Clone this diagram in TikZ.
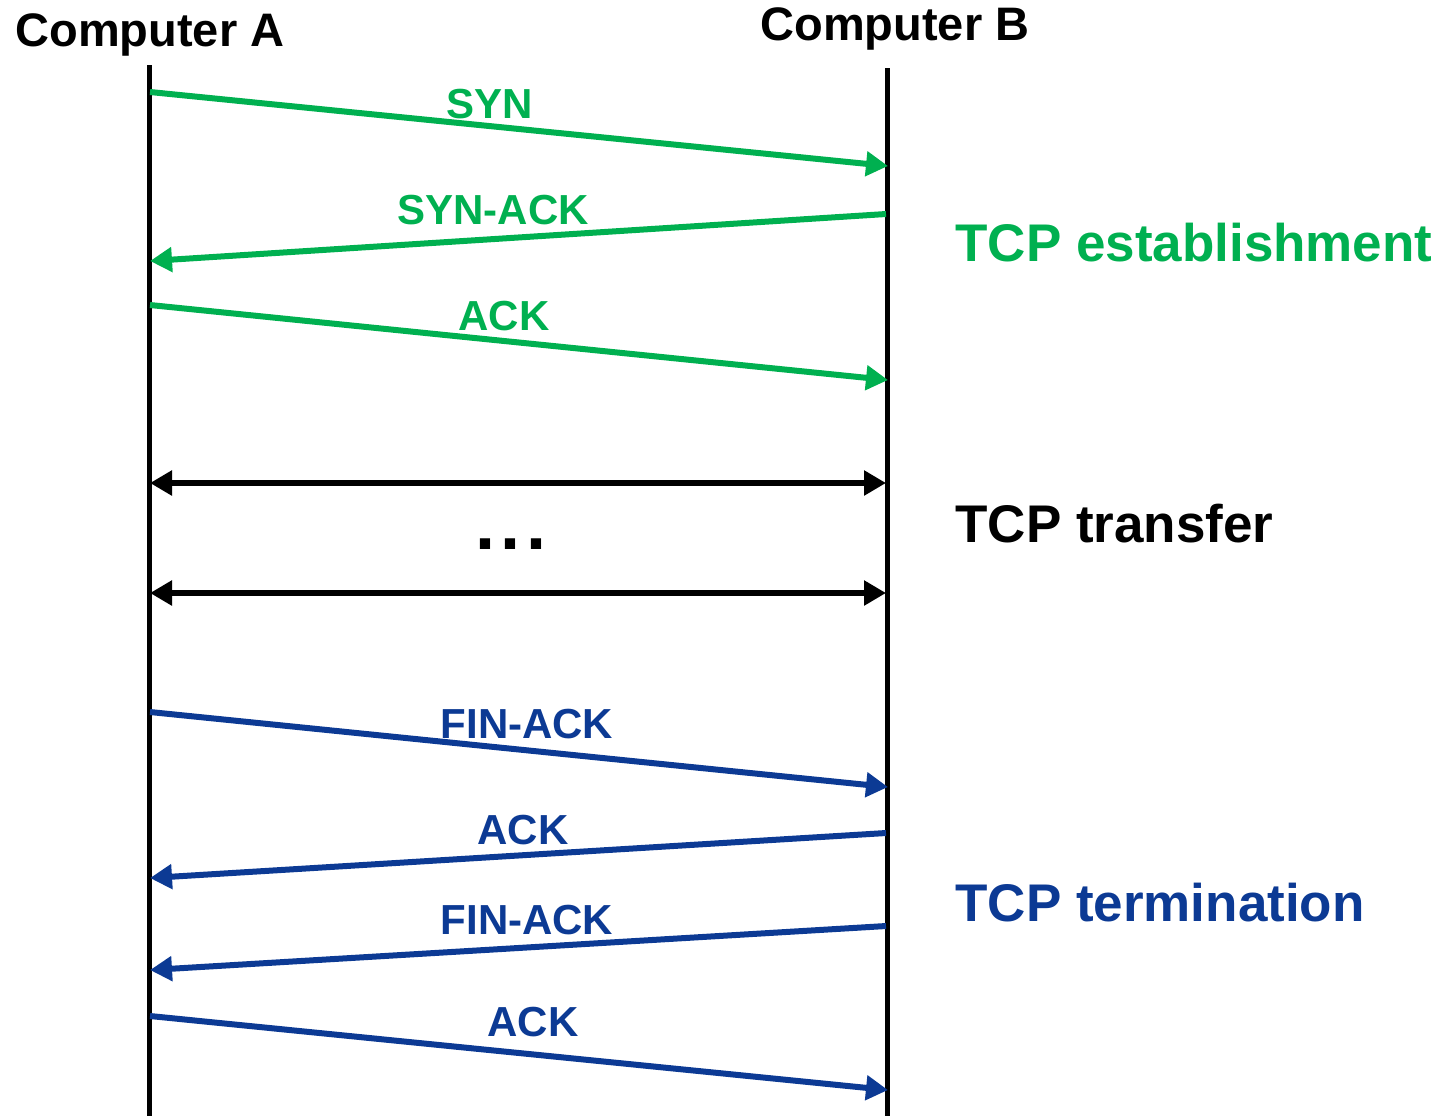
\documentclass[tikz,border=0pt]{standalone}
\usepackage{fontspec}
\setmainfont{Liberation Sans}
\usetikzlibrary{arrows.meta}
\definecolor{tcpgreen}{RGB}{0,176,80}
\definecolor{tcpblue}{RGB}{12,58,148}
\begin{document}
\begin{tikzpicture}[x=0.5pt,y=-0.5pt,
  life/.style={line width=2.5pt,black},
  msg/.style={line width=3pt,-{Triangle[length=11pt,width=12pt]}},
  both/.style={line width=3pt,{Triangle[length=11pt,width=12pt]}-{Triangle[length=11pt,width=12pt]}},
  head/.style={font=\bfseries\fontsize{23.5pt}{26pt}\selectfont,anchor=west,inner sep=0pt},
  lbl/.style={font=\bfseries\fontsize{21pt}{24pt}\selectfont,inner sep=0pt},
  phase/.style={font=\bfseries\fontsize{26.5pt}{30pt}\selectfont,anchor=west,inner sep=0pt}]
\useasboundingbox (0,0) rectangle (1449,1116);
% lifelines
\coordinate (Atop) at (149,65);
\coordinate (Abot) at (149,1116);
\coordinate (Btop) at (887,68);
\coordinate (Bbot) at (887,1116);
\draw[life] (Atop) -- (Abot);
\draw[life] (Btop) -- (Bbot);
\node[head] (ca) at (15,35) {Computer A};
\node[head] (cb) at (760,29) {Computer B};
% establishment
\coordinate (a1) at (150,92);  \coordinate (b1) at (888,166);
\coordinate (b2) at (886,214); \coordinate (a2) at (150,261);
\coordinate (a3) at (150,305); \coordinate (b3) at (888,380);
\draw[msg,tcpgreen] (a1) -- (b1);
\draw[msg,tcpgreen] (b2) -- (a2);
\draw[msg,tcpgreen] (a3) -- (b3);
\node[lbl,text=tcpgreen] (l1) at (490,104) {SYN};
\node[lbl,text=tcpgreen] (l2) at (493,210) {SYN-ACK};
\node[lbl,text=tcpgreen] (l3) at (504,316) {ACK};
\node[phase,text=tcpgreen] (p1) at (955,243) {TCP establishment};
% transfer
\coordinate (t1a) at (150,483); \coordinate (t1b) at (886,483);
\coordinate (t2a) at (150,593); \coordinate (t2b) at (886,593);
\draw[both,black] (t1a) -- (t1b);
\draw[both,black] (t2a) -- (t2b);
\node[font=\bfseries\fontsize{36pt}{40pt}\selectfont,inner sep=0pt] (dots) at (511,544) {.\kern2.75pt.\kern2.75pt.};
\node[phase] (p2) at (955,524) {TCP transfer};
% termination
\coordinate (a4) at (150,712);  \coordinate (b4) at (888,787);
\coordinate (b5) at (886,833);  \coordinate (a5) at (150,878);
\coordinate (b6) at (886,926);  \coordinate (a6) at (150,970);
\coordinate (a7) at (150,1016); \coordinate (b7) at (888,1090);
\draw[msg,tcpblue] (a4) -- (b4);
\draw[msg,tcpblue] (b5) -- (a5);
\draw[msg,tcpblue] (b6) -- (a6);
\draw[msg,tcpblue] (a7) -- (b7);
\node[lbl,text=tcpblue] (l4) at (527,724) {FIN-ACK};
\node[lbl,text=tcpblue] (l5) at (523,830) {ACK};
\node[lbl,text=tcpblue] (l6) at (527,920) {FIN-ACK};
\node[lbl,text=tcpblue] (l7) at (533,1022) {ACK};
\node[phase,text=tcpblue] (p3) at (955,903) {TCP termination};
\end{tikzpicture}
\end{document}
